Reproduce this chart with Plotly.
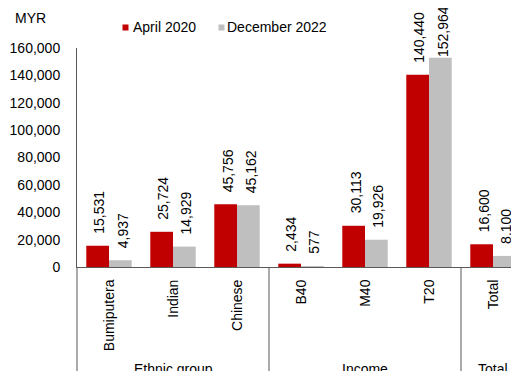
import plotly.graph_objects as go

categories = ["Bumiputera", "Indian", "Chinese", "B40", "M40", "T20", "Total"]
april_2020 = [15531, 25724, 45756, 2434, 30113, 140440, 16600]
december_2022 = [4937, 14929, 45162, 577, 19926, 152964, 8100]
series_names = ["April 2020", "December 2022"]
group_labels = ["Ethnic group", "Income", "Total"]
group_spans = [(0, 2), (3, 5), (6, 6)]
y_ticks = [0, 20000, 40000, 60000, 80000, 100000, 120000, 140000, 160000]
unit_label = "MYR"

RED = "#C00000"
GRAY = "#BFBFBF"
AXIS = "#595959"
FONT = "Liberation Sans, Arial, sans-serif"

OFF = 8  # default page body margin
SW, SH = 519, 371  # screen size
W, H = SW - OFF, SH - OFF
L, R, T, B = 77 - OFF, 0, 48 - OFF, SH - 267
PW, PH = W - L - R, H - T - B
Y_MAX = y_ticks[-1]
LABEL_GAP = 10
LABEL_TOP_LIMIT = 4  # screen px; labels are pushed down to stay inside the chart


def px(x):  # screen x -> paper
    return (x - OFF - L) / PW


def py(y):  # screen y -> paper
    return (H - B - (y - OFF)) / PH


def text_len(s, size=14):
    return sum(0.556 * size if ch.isdigit() else 0.278 * size for ch in s) + 2


fig = go.Figure()
fig.add_trace(go.Bar(x=categories, y=april_2020, name=series_names[0],
                     marker=dict(color=RED, line=dict(width=0))))
fig.add_trace(go.Bar(x=categories, y=december_2022, name=series_names[1],
                     marker=dict(color=GRAY, line=dict(width=0))))

annotations = []
for vals, shift in ((april_2020, -9.5), (december_2022, 13.5)):
    for c, v in zip(categories, vals):
        s = f"{v:,}"
        bar_top_screen = (T + OFF) + PH * (1 - v / Y_MAX)
        base = dict(text=s, showarrow=False, textangle=-90, xanchor="center",
                    xref="x", x=c, xshift=shift,
                    font=dict(family=FONT, size=14, color="#000000"))
        if bar_top_screen - LABEL_GAP - text_len(s) < LABEL_TOP_LIMIT:
            base.update(yref="paper", y=py(LABEL_TOP_LIMIT), yanchor="top")
        else:
            base.update(yref="y", y=v, yanchor="bottom", yshift=LABEL_GAP)
        annotations.append(base)

for lab, (a, b) in zip(group_labels, group_spans):
    annotations.append(dict(x=(a + b) / 2, y=py(359), xref="x", yref="paper",
                            text=lab, showarrow=False, xanchor="center", yanchor="top",
                            font=dict(family=FONT, size=14, color="#000000")))

annotations.append(dict(x=px(13), y=py(18), xref="paper", yref="paper", text=unit_label,
                        showarrow=False, xanchor="left", yanchor="middle",
                        font=dict(family=FONT, size=14, color="#000000")))
legend_text_x = [130.5, 224.5]
for name, lx in zip(series_names, legend_text_x):
    annotations.append(dict(x=px(lx), y=py(27), xref="paper", yref="paper", text=name,
                            showarrow=False, xanchor="left", yanchor="middle",
                            font=dict(family=FONT, size=14, color="#000000")))

shapes = []
for col, x0 in ((RED, 122.5), (GRAY, 218.5)):
    shapes.append(dict(type="rect", xref="paper", yref="paper", x0=px(x0), x1=px(x0 + 6),
                       y0=py(30.5), y1=py(24.5), fillcolor=col, line=dict(width=0)))
# separators below the category axis
shapes.append(dict(type="line", xref="paper", yref="paper", x0=0, x1=0, y0=0, y1=py(SH + 5),
                   line=dict(color=AXIS, width=1)))
for (a, b) in group_spans[:-1]:
    shapes.append(dict(type="line", xref="x", yref="paper", x0=b + 0.5, x1=b + 0.5,
                       y0=0, y1=py(SH + 5), line=dict(color=AXIS, width=1)))

fig.update_layout(
    width=W, height=H,
    margin=dict(l=L, r=R, t=T, b=B, pad=0),
    paper_bgcolor="white", plot_bgcolor="white",
    barmode="group", bargap=0.29, bargroupgap=0,
    showlegend=False,
    font=dict(family=FONT, size=14, color="#000000"),
    annotations=annotations, shapes=shapes,
    xaxis=dict(type="category", range=[-0.5, -0.5 + PW / 64], showline=True,
               linecolor=AXIS, linewidth=1, tickangle=-90, ticks="",
               showgrid=False, zeroline=False, ticklabelstandoff=6,
               tickfont=dict(family=FONT, size=14, color="#000000")),
    yaxis=dict(range=[0, Y_MAX], tickvals=y_ticks, tickformat=",", showline=True,
               linecolor=AXIS, linewidth=1, ticks="", showgrid=False, zeroline=False,
               ticklabelstandoff=13,
               tickfont=dict(family=FONT, size=14, color="#000000")),
)

fig.write_html("out.html")
